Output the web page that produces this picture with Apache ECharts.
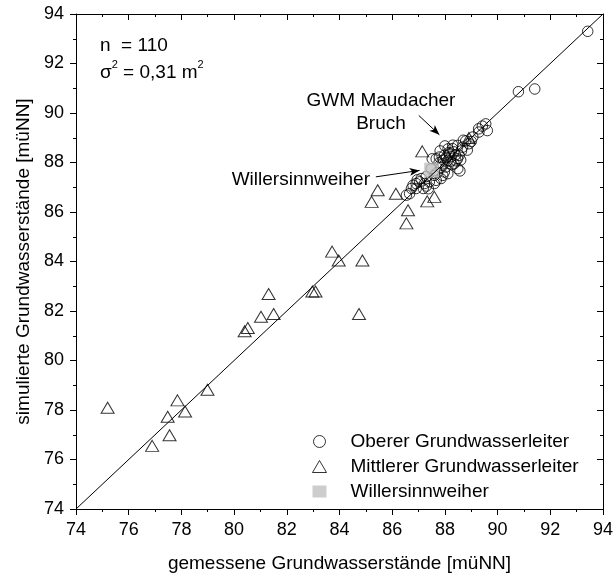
<!DOCTYPE html>
<html>
<head>
<meta charset="utf-8">
<script src="https://cdn.jsdelivr.net/npm/echarts@6/dist/echarts.min.js"></script>
<style>
  html, body { margin: 0; padding: 0; background: #fff; }
  #main { width: 616px; height: 578px; }
</style>
</head>
<body>
<div id="main"></div>
<script>
// Messwerte [gemessen, simuliert]
var oberer = [
  [93.42,93.30],[90.79,90.86],[91.41,90.97],[89.55,89.56],[89.61,89.29],[89.28,89.36],
  [89.42,89.47],[89.29,89.23],[88.92,88.76],[88.67,88.62],[88.48,88.69],[88.29,88.56],
  [88.54,88.29],[88.17,88.35],[87.98,88.29],[87.79,88.22],[87.67,88.15],[88.11,88.08],
  [88.35,87.95],[88.48,88.15],[87.92,87.95],[88.04,87.82],[87.98,87.62],[87.92,87.48],
  [87.85,87.35],[87.67,87.28],[87.41,87.22],[87.23,87.15],[87.04,87.22],[86.91,87.15],
  [86.79,87.08],[86.73,86.95],[86.91,86.95],[86.66,86.74],[86.54,86.68],[87.60,87.15],
  [87.60,87.48],[88.23,88.23],[88.34,88.43],[88.12,88.55],[88.42,88.07],[88.27,87.91],
  [88.63,88.47],[88.79,88.87],[89.06,89.03],[87.78,87.99],[87.48,87.75],[87.29,87.43],
  [87.10,87.35],[87.82,88.47],[88.00,88.67],[88.49,87.75],[87.70,87.59],[87.18,86.95],
  [87.37,86.94],[88.11,87.55],[88.57,87.66],[87.52,88.15],[88.05,88.20],[88.20,88.05],
  [87.95,88.10],[88.15,88.40],[88.40,88.30],[87.85,87.80],[88.30,88.70],[88.70,88.90],
  [89.00,88.85],[87.30,87.05],[86.95,87.30],[88.60,88.10],[88.85,88.50]
];
var mittlerer = [
  [75.20,78.09],[76.89,76.55],[77.48,77.73],[77.55,76.98],[77.85,78.39],[78.14,77.94],
  [78.99,78.82],[80.40,81.18],[80.52,81.31],[81.02,81.77],[81.31,82.69],[81.50,81.88],
  [82.97,82.79],[83.09,82.79],[83.72,84.40],[83.97,84.04],[84.87,84.04],[84.74,81.88],
  [87.14,88.45],[85.45,86.88],[85.22,86.41],[86.14,86.74],[86.60,86.07],[86.54,85.54],
  [87.33,86.43],[87.60,86.61],[88.91,88.99]
];
var willersinn = [[87.50,87.69]];
var diagonale = [[74,74],[94,94]];
var pfeilGWM = [[87.01,89.90],[87.79,89.12]];
var pfeilWill = [[85.38,87.42],[87.04,87.68]];
var legendNamen = ['Oberer Grundwasserleiter','Mittlerer Grundwasserleiter','Willersinnweiher'];

var FONT = 'Liberation Sans, Arial, sans-serif';
var myChart = echarts.init(document.getElementById('main'));

function achse(pos, zeigen) {
  return {
    type: 'value', position: pos, min: 74, max: 94, interval: 2,
    axisLine: { show: true, onZero: false, lineStyle: { color: '#000', width: 1 } },
    axisTick: { show: true, inside: !zeigen, length: 6, lineStyle: { color: '#000' } },
    minorTick: { show: true, splitNumber: 2, length: 3, lineStyle: { color: '#000' } },
    axisLabel: { show: zeigen, color: '#000', fontSize: 18, fontFamily: FONT, margin: 12 },
    splitLine: { show: false }
  };
}

var xUnten = achse('bottom', true);
xUnten.name = 'gemessene Grundwasserstände [müNN]';
xUnten.nameLocation = 'middle';
xUnten.nameGap = 45;
xUnten.nameTextStyle = { color: '#000', fontSize: 19, fontFamily: FONT };
var yLinks = achse('left', true);
yLinks.name = 'simulierte Grundwasserstände [müNN]';
yLinks.nameLocation = 'middle';
yLinks.nameGap = 28;
yLinks.nameTextStyle = { color: '#000', fontSize: 19, fontFamily: FONT };

var option = {
  backgroundColor: '#fff',
  animation: false,
  grid: { left: 76, right: 8, top: 14, bottom: 66 },
  xAxis: [xUnten, achse('top', false)],
  yAxis: [yLinks, achse('right', false)],
  legend: {
    data: legendNamen,
    orient: 'vertical',
    left: 307, top: 427,
    itemWidth: 14, itemHeight: 12, itemGap: 6,
    symbolKeepAspect: true,
    itemStyle: { borderWidth: 1 },
    textStyle: { color: '#000', fontSize: 19, fontFamily: FONT, lineHeight: 19, padding: [0, 0, 0, 19] }
  },
  graphic: [
    { type: 'text', left: 100, top: 36, style: {
        text: '{a|n  = 110}\n{a|σ}{s|2}{a| = 0,31 m}{s|2}',
        fill: '#000', font: '19px ' + FONT,
        rich: { a: { fontSize: 19, fontFamily: FONT, lineHeight: 27, verticalAlign: 'bottom' },
                s: { fontSize: 11, fontFamily: FONT, lineHeight: 27, verticalAlign: 'top', padding: [4, 0, 0, 0] } }
    } },
    { type: 'text', x: 381, y: 89, style: {
        text: 'GWM Maudacher\nBruch', align: 'center', lineHeight: 23,
        fill: '#000', font: '19px ' + FONT
    } },
    { type: 'text', x: 370, y: 180, style: {
        text: 'Willersinnweiher', align: 'right', verticalAlign: 'middle',
        fill: '#000', font: '19px ' + FONT
    } }
  ],
  series: [
    {
      name: 'Oberer Grundwasserleiter', type: 'scatter', data: oberer,
      symbol: 'circle', symbolSize: 10.5,
      itemStyle: { color: 'rgba(0,0,0,0)', borderColor: '#000', borderWidth: 1 },
      z: 3
    },
    {
      name: 'Mittlerer Grundwasserleiter', type: 'scatter', data: mittlerer,
      symbol: 'triangle', symbolSize: [13, 11],
      itemStyle: { color: 'rgba(0,0,0,0)', borderColor: '#000', borderWidth: 1 },
      z: 3
    },
    {
      name: 'Willersinnweiher', type: 'scatter', data: willersinn,
      symbol: 'rect', symbolSize: 15,
      itemStyle: { color: '#c0c0c0', borderWidth: 0 },
      z: 4
    },
    {
      name: 'diagonale', type: 'line', data: diagonale,
      symbol: 'none', silent: true,
      lineStyle: { color: '#000', width: 1 },
      z: 5,
      markLine: {
        silent: true, symbol: ['none', 'arrow'], symbolSize: [6, 10],
        label: { show: false },
        lineStyle: { color: '#000', width: 1, type: 'solid' },
        data: [
          [{ coord: pfeilGWM[0] }, { coord: pfeilGWM[1] }],
          [{ coord: pfeilWill[0] }, { coord: pfeilWill[1] }]
        ]
      }
    }
  ]
};

myChart.setOption(option);
</script>
</body>
</html>
